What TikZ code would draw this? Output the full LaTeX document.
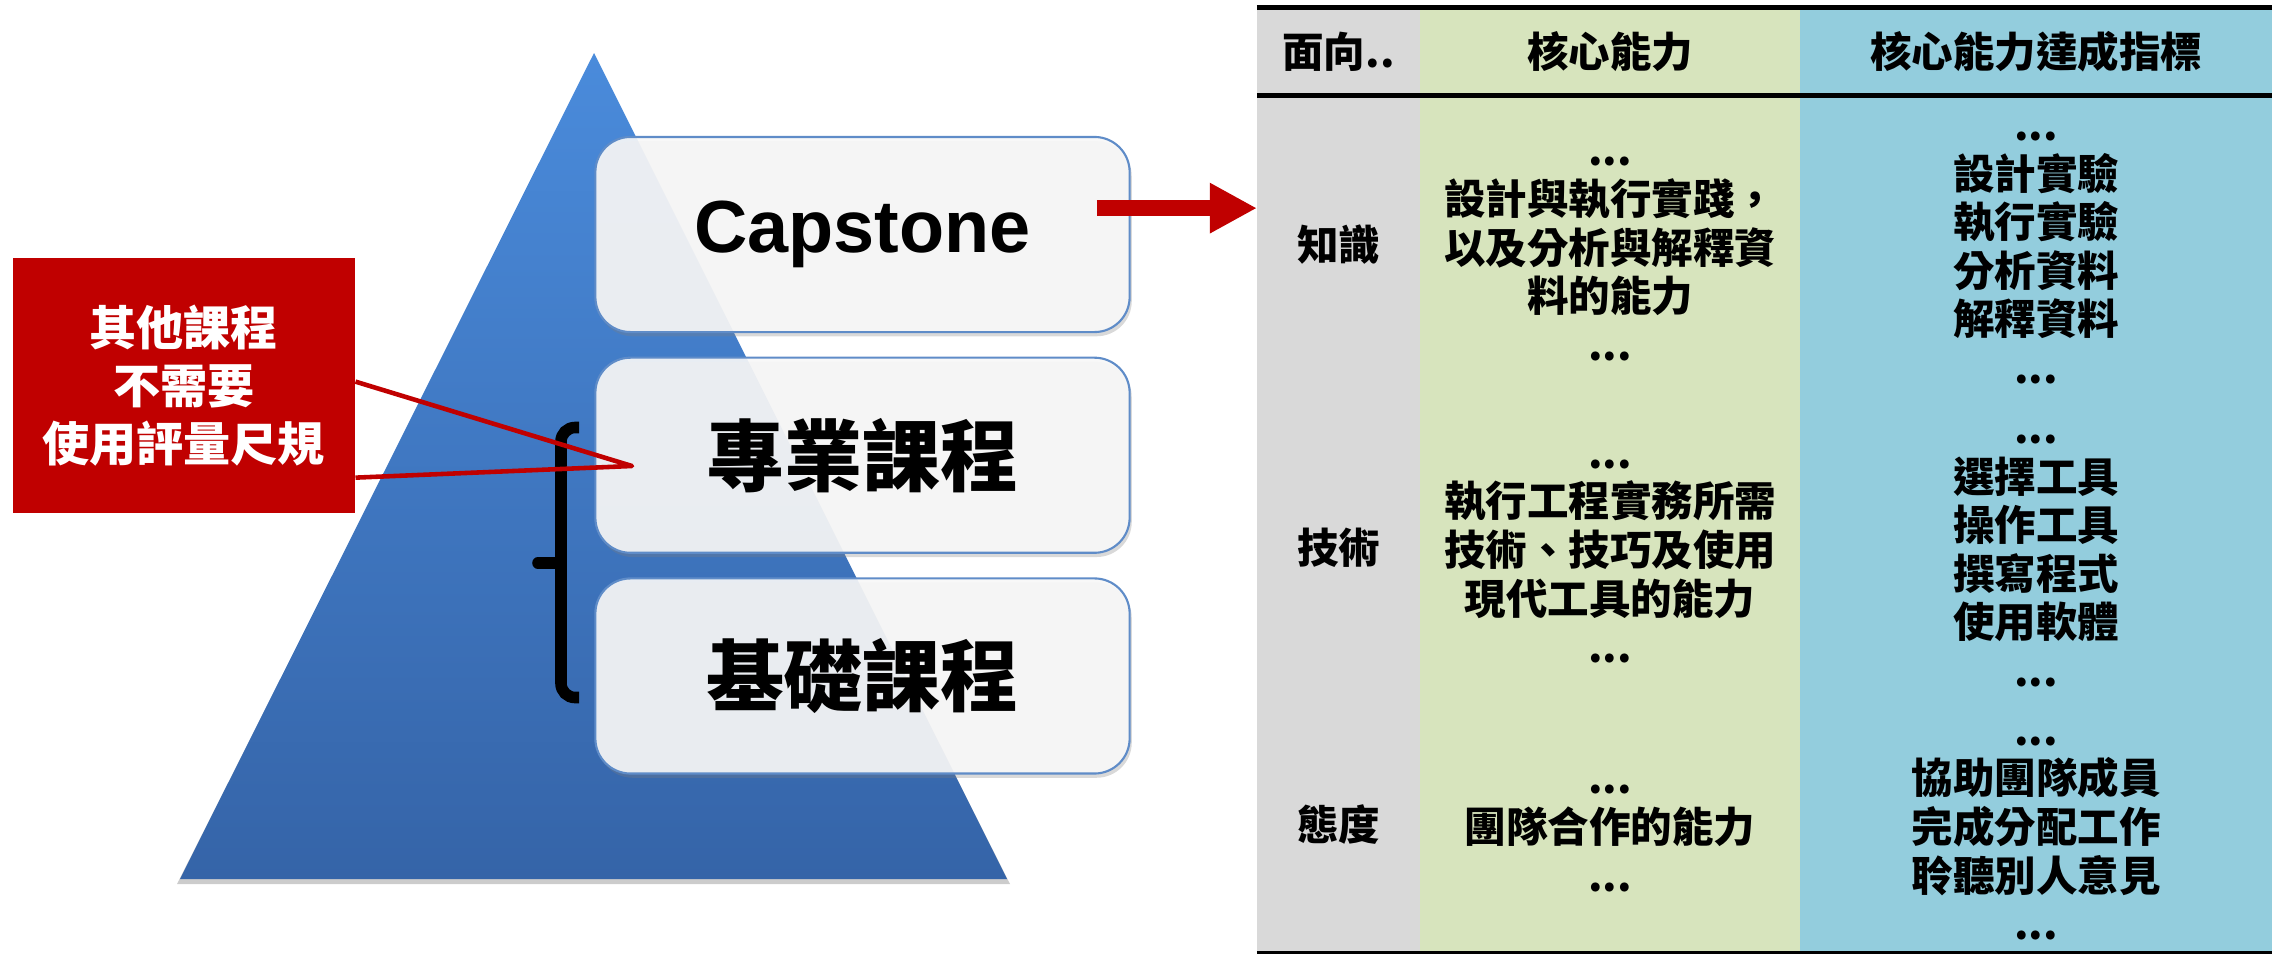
\documentclass[tikz,border=0pt]{standalone}
\usepackage{fontspec}
\setmainfont{Liberation Sans}
\newfontfamily\cjk{Noto Sans CJK TC}
\usepackage{xcolor}
\usepackage{tikz}
\usetikzlibrary{arrows.meta,shadows,positioning}
\definecolor{AzulClaro}{RGB}{74,139,219}
\definecolor{AzulOscuro}{RGB}{53,100,168}
\definecolor{BordeCaja}{RGB}{95,140,200}
\definecolor{RojoNota}{RGB}{192,0,0}
\definecolor{GrisCol}{RGB}{217,217,217}
\definecolor{VerdeCol}{RGB}{215,228,189}
\definecolor{CelesteCol}{RGB}{147,205,221}

\begin{document}
\begin{tikzpicture}[x=0.01cm, y=-0.01cm, >=Latex,
    caja/.style={draw=BordeCaja, line width=0.6pt, fill=gray!6, fill opacity=0.92,
        text opacity=1, rounded corners=10pt, minimum width=5.34cm, minimum height=1.95cm,
        drop shadow={shadow xshift=0.6pt, shadow yshift=-1.2pt, opacity=0.3}},
    nota/.style={fill=RojoNota, text=white, align=center, minimum width=3.42cm,
        minimum height=2.54cm, font=\cjk\bfseries\fontsize{13.4}{16.5}\selectfont},
    columna/.style={inner sep=0pt, outer sep=0pt, minimum height=9.44cm},
    celda/.style={inner sep=0pt, align=center, font=\cjk\bfseries\fontsize{11.8}{13.8}\selectfont}]
    \useasboundingbox (0,0) rectangle (2272,954);

    % piramide
    \coordinate (cima) at (594,53);
    \coordinate (izq)  at (180,879);
    \coordinate (der)  at (1007,879);
    \fill[black, opacity=0.2] (594,58) -- (1010,884) -- (177,884) -- cycle;
    \shade[top color=AzulClaro, bottom color=AzulOscuro] (cima) -- (der) -- (izq) -- cycle;

    \draw[line width=3.3pt, rounded corners=4pt] (579,427.5) -| (561,697.5) -- (579,697.5);
    \draw[line width=3.3pt, line cap=round] (561,563) -- (538,563);

    \node[caja] (cap) at (862.5,234.5) {\fontsize{21}{25}\selectfont\bfseries Capstone};
    \node[caja, below=0.235cm of cap] (pro)
        {\cjk\bfseries\fontsize{22.2}{26}\selectfont 專業課程};
    \node[caja, below=0.235cm of pro] (base)
        {\cjk\bfseries\fontsize{22.2}{26}\selectfont 基礎課程};

    \node[nota] (nota) at (183.7,385.5) {其他課程\\不需要\\使用評量尺規};
    \coordinate (punta) at (632,466);
    \draw[RojoNota, line width=1.3pt, line join=round]
        ([yshift=1.1pt]nota.east) -- (punta) -- ([yshift=-26.2pt]nota.east);

    % tabla
    \node[columna, fill=GrisCol, minimum width=1.63cm] (colA) at (1338.5,480) {};
    \node[columna, fill=VerdeCol, minimum width=3.8cm, right=0pt of colA] (colB) {};
    \node[columna, fill=CelesteCol, minimum width=4.72cm, right=0pt of colB] (colC) {};
    \draw[line width=1.3pt] (colA.north west) -- (colC.north east);
    \draw[line width=1.4pt] ([yshift=-25pt]colA.north west) -- ([yshift=-25pt]colC.north east);
    \draw[line width=0.8pt] (colA.south west) -- (colC.south east);

    \draw[RojoNota, line width=4.35pt, -{Triangle[length=13.4pt, width=13.4pt]}]
        ([xshift=-9.6pt, yshift=7.5pt]cap.east) -- ([yshift=7.5pt]cap.east -| colA.west);

    \node[celda] (h1) at (1338.5,52) {面向..};
    \node[celda] (h2) at (1610,52) {核心能力};
    \node[celda] (h3) at (2036,52) {核心能力達成指標};

    \node[celda] (a1) at (1338.5,245) {知識};
    \node[celda] (b1) at (1610,259) {...\\設計與執行實踐，\\以及分析與解釋資\\料的能力\\...};
    \node[celda] (c1) at (2036,258) {...\\設計實驗\\執行實驗\\分析資料\\解釋資料\\...};

    \node[celda] (a2) at (1338.5,548) {技術};
    \node[celda] (b2) at (1610,561.5) {...\\執行工程實務所需\\技術、技巧及使用\\現代工具的能力\\...};
    \node[celda] (c2) at (2036,561) {...\\選擇工具\\操作工具\\撰寫程式\\使用軟體\\...};

    \node[celda] (a3) at (1338.5,825) {態度};
    \node[celda] (b3) at (1610,838.5) {...\\團隊合作的能力\\...};
    \node[celda] (c3) at (2036,838.5) {...\\協助團隊成員\\完成分配工作\\聆聽別人意見\\...};
\end{tikzpicture}
\end{document}
